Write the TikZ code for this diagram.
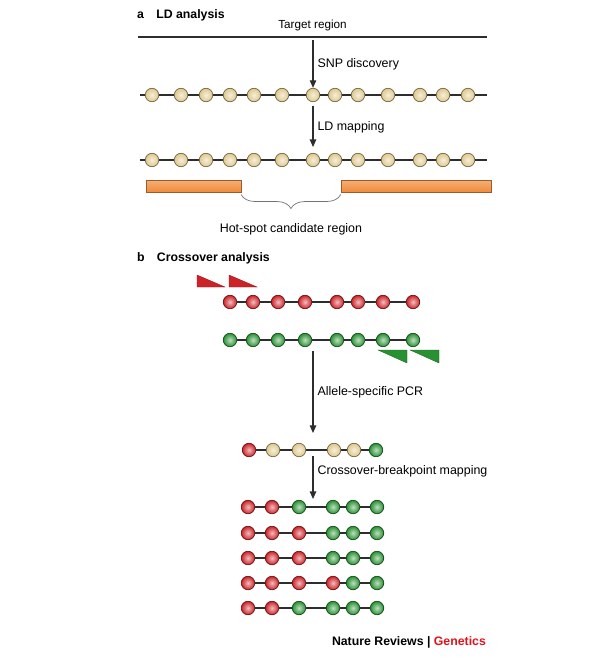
\documentclass[tikz,border=0pt]{standalone}
\usepackage{fontspec}
\setmainfont{Liberation Sans}
\usetikzlibrary{positioning, arrows.meta, decorations.pathreplacing}

\definecolor{beadtan}{RGB}{222,200,140}
\definecolor{beadred}{RGB}{205,35,40}
\definecolor{beadgreen}{RGB}{40,145,50}
\definecolor{barorange}{RGB}{240,140,60}
\definecolor{strandgray}{RGB}{45,45,45}
\definecolor{natred}{RGB}{220,20,30}

\tikzset{
  bead/.style={circle, inner sep=0pt, minimum size=11.5pt, draw=#1!50!black,
    line width=0.6pt, inner color=#1!30!white, outer color=#1},
  strand/.style={draw=strandgray, line width=1.1pt},
  flow/.style={draw=strandgray, line width=1.1pt, -{Triangle[length=6.5pt,width=5.5pt]}},
  bar/.style={rectangle, inner sep=0pt, minimum height=10pt, draw=barorange!65!black,
    line width=0.5pt, top color=barorange!70!white, bottom color=barorange},
  primer/.style={fill=#1, draw=#1!70!black, line width=0.3pt},
  brace/.style={draw=black!55, line width=0.6pt,
    decorate, decoration={brace, mirror, amplitude=12pt}},
  title/.style={anchor=west, font=\fontsize{10.5}{12}\selectfont\bfseries},
}

\begin{document}
\begin{tikzpicture}[x=0.03cm, y=-0.03cm, every node/.style={font=\fontsize{10.6}{12}\selectfont}]
\useasboundingbox (0,0) rectangle (600,657);

% a: LD analysis
\node[title] (ta) at (133,15) {a\quad LD analysis};
\coordinate (tl) at (138,37); \coordinate (tr) at (487,37);
\draw[strand] (tl) -- node[above=1pt, font=\fontsize{10}{12}\selectfont] (tlab) {Target region} (tr);

% SNP rows
\coordinate (s0) at (140,95); \coordinate (s14) at (487,95);
\coordinate (q0) at (140,160); \coordinate (q14) at (487,160);
\foreach \x [count=\i] in {152,181,206,230,254,282,313,335,358,388,420,443,468} {
  \node[bead=beadtan] (s\i) at (\x,95) {};
  \node[bead=beadtan] (q\i) at (\x,160) {};
}
\foreach \i [evaluate=\i as \j using int(\i+1)] in {0,...,13}
  \draw[strand] (s\i) -- (s\j) (q\i) -- (q\j);

\coordinate (tm) at (313,40);
\draw[flow] (tm) -- node[right] (l1) {SNP discovery} (s7);
\draw[flow, shorten <=3pt, shorten >=5pt] (s7) -- node[right] (l2) {LD mapping} (q7);

% hot spot
\node[bar, minimum width=80.75pt] (lbar) at (193.5,186) {};
\node[bar, minimum width=128.3pt] (rbar) at (416.2,186) {};
\draw[brace] ([yshift=-2pt]lbar.south east) -- node[below=21pt] (hlab)
  {Hot-spot candidate region} ([yshift=-2pt]rbar.south west);

% b: Crossover analysis
\node[title] (tb) at (133,258) {b\quad Crossover analysis};

\foreach \x in {197,229}
  \filldraw[primer=beadred] (\x,275) -- (\x,287) -- (\x+28,287) -- cycle;
\foreach \x in {378,410}
  \filldraw[primer=beadgreen] (\x,350) -- (\x+29,350) -- (\x+29,363) -- cycle;

\foreach \x [count=\i] in {230,253,278,305,337,358,383,413} {
  \node[bead=beadred] (p\i) at (\x,302) {};
  \node[bead=beadgreen] (g\i) at (\x,340) {};
}
\foreach \i [evaluate=\i as \j using int(\i+1)] in {1,...,7}
  \draw[strand] (p\i) -- (p\j) (g\i) -- (g\j);

\coordinate (c1) at (313,351); \coordinate (c2) at (313,433);
\draw[flow] (c1) -- node[right] (l3) {Allele-specific PCR} (c2);

% recombinant molecule
\foreach \x/\c [count=\i] in {249/beadred,273/beadtan,299/beadtan,334/beadtan,354/beadtan,376/beadgreen}
  \node[bead=\c] (m\i) at (\x,450) {};
\foreach \i [evaluate=\i as \j using int(\i+1)] in {1,...,5}
  \draw[strand] (m\i) -- (m\j);

\coordinate (c3) at (313,456); \coordinate (c4) at (313,499);
\draw[flow] (c3) -- node[right, pos=0.35] (l4) {Crossover-breakpoint mapping} (c4);

% breakpoint rows
\foreach \y/\k [count=\r] in {507/2,533/3,558/3,583/4,608/2} {
  \foreach \x [count=\i] in {248,272,299,333,353,377} {
    \ifnum\i>\k \def\c{beadgreen}\else\def\c{beadred}\fi
    \node[bead=\c] (b\r-\i) at (\x,\y) {};
  }
  \foreach \i [evaluate=\i as \j using int(\i+1)] in {1,...,5}
    \draw[strand] (b\r-\i) -- (b\r-\j);
}

\node[anchor=east, font=\fontsize{10.5}{12}\selectfont\bfseries] (credit) at (490,642)
  {Nature Reviews | \textcolor{natred}{Genetics}};
\end{tikzpicture}
\end{document}
